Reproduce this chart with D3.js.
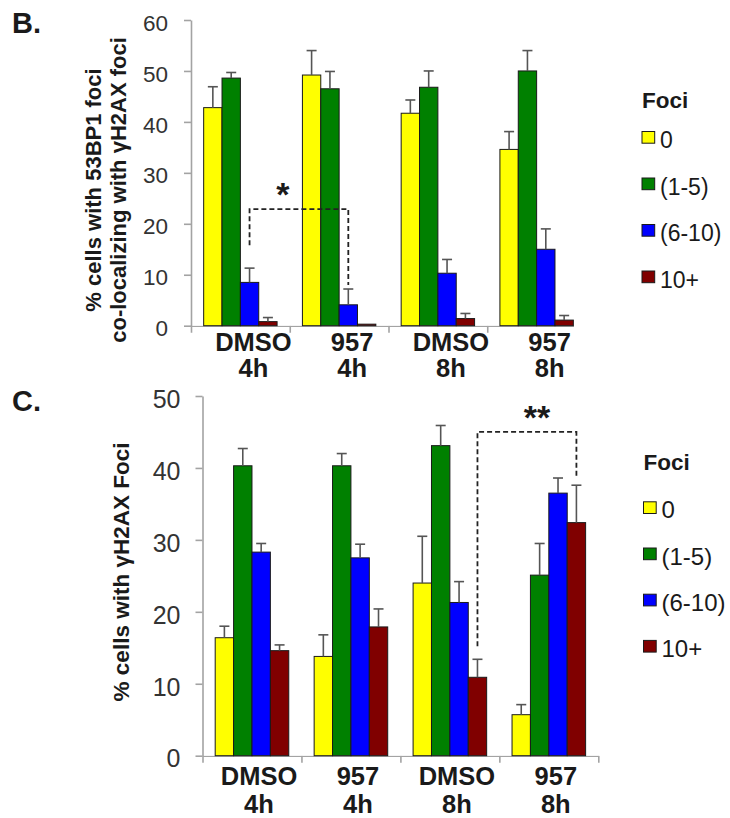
<!DOCTYPE html>
<html>
<head>
<meta charset="utf-8">
<script src="https://cdn.jsdelivr.net/npm/d3@7"></script>
<style>
  body { margin: 0; background: #fff; }
  svg text { font-family: "Liberation Sans", Arial, sans-serif; fill: #1a1a1a; }
</style>
</head>
<body>
<svg id="fig" width="730" height="818"></svg>
<script>
// shared categories / series
var groups = ["DMSO|4h", "957|4h", "DMSO|8h", "957|8h"]
var series = ["0", "(1-5)", "(6-10)", "10+"]
var colors = ["#ffff00", "#008000", "#0000ff", "#800000"]

// panel B  (rows = series, cols = groups)
var bValues = [
  [42.8, 49.2, 41.7, 34.6],
  [48.6, 46.5, 46.8, 50.0],
  [8.5, 4.1, 10.3, 15.0],
  [0.8, 0.3, 1.4, 1.1],
]
var bErrors = [
  [4.1, 4.8, 2.6, 3.5],
  [1.1, 3.4, 3.2, 4.0],
  [2.8, 3.1, 2.7, 4.0],
  [0.8, 0, 1.0, 0.9],
]
var bTicks = [0, 10, 20, 30, 40, 50, 60]
var bBracket = [[0, 2, 15.8], [1, 2, 8.0]]  // [group, series, leg bottom]
var bBracketTop = 22.9

// panel C
var cValues = [
  [16.4, 13.8, 24.0, 5.7],
  [40.3, 40.3, 43.1, 25.1],
  [28.3, 27.5, 21.3, 36.5],
  [14.6, 17.9, 10.9, 32.4],
]
var cErrors = [
  [1.6, 3.0, 6.5, 1.4],
  [2.4, 1.7, 2.8, 4.4],
  [1.2, 1.9, 2.9, 2.1],
  [0.8, 2.5, 2.5, 5.2],
]
var cTicks = [0, 10, 20, 30, 40, 50]
var cBracket = [[2, 3, 15.2], [3, 3, 38.9]]
var cBracketTop = 45.0

var axisColor = "#a3a3a3"
var svg = d3.select("#fig")

var panel = (p) => {
  var g = svg.append("g")
  var y = d3.scaleLinear().domain([0, d3.max(p.ticks)]).range([p.bottom, p.top])
  var x0 = d3.scaleBand().domain(groups).range([p.left, p.right])
  var x1 = d3.scaleBand().domain(series).range([0, x0.bandwidth()]).paddingOuter(0.69)
  var xb = d3.scaleLinear().domain([0, groups.length]).range([p.left, p.right])

  // panel letter
  g.append("text").text(p.name).attr("x", 12).attr("y", p.nameY)
    .attr("font-size", 29).attr("font-weight", "bold")

  // y axis
  var yAxis = g.append("g").attr("transform", `translate(${p.left},0)`)
    .call(d3.axisLeft(y).tickValues(p.ticks).tickSize(7).tickSizeOuter(0).tickPadding(p.tickPad))
  yAxis.attr("font-family", null).attr("font-size", null)
  yAxis.select(".domain").attr("stroke", axisColor).attr("stroke-width", 1.6)
  yAxis.selectAll(".tick line").attr("stroke", axisColor).attr("stroke-width", 1.6)
  yAxis.selectAll(".tick text").attr("font-size", p.tickFont).attr("dy", "0.45em").style("fill", "#333")

  // x axis, ticks on the category boundaries
  var clipId = "clip" + p.name[0]
  g.append("clipPath").attr("id", clipId).append("rect")
    .attr("x", 0).attr("y", 0).attr("width", p.clip).attr("height", 818)
  var xAxis = g.append("g").attr("transform", `translate(0,${p.bottom})`)
    .attr("clip-path", `url(#${clipId})`)
    .call(d3.axisBottom(xb).tickValues(d3.range(groups.length + 1)).tickFormat("").tickSize(7).tickSizeOuter(0))
  xAxis.select(".domain").attr("stroke", axisColor).attr("stroke-width", 1.6)
  xAxis.selectAll(".tick line").attr("stroke", axisColor).attr("stroke-width", 1.6)

  // category labels (two lines)
  groups.forEach((grp) => {
    var t = g.append("text").attr("text-anchor", "middle").attr("font-weight", "bold")
      .attr("font-size", p.catFont)
    grp.split("|").forEach((line, k) => {
      t.append("tspan").text(line)
        .attr("x", x0(grp) + x0.bandwidth() / 2 + p.labelDx)
        .attr("y", p.bottom + p.catLines[k])
    })
  })

  // y title
  p.title.forEach((line, k) => {
    g.append("text").text(line)
      .attr("transform", `translate(${p.titleX[k]},${p.titleY}) rotate(-90)`)
      .attr("text-anchor", "middle").attr("font-weight", "bold").attr("font-size", p.titleFont)
  })

  var rows = series.flatMap((s, i) => groups.map((grp, j) => ({
    s: s, grp: grp, v: p.values[i][j], e: p.errors[i][j], c: colors[i]
  })))
  var bx = (d) => x0(d.grp) + x1(d.s)

  g.append("g").selectAll("rect").data(rows).join("rect")
    .attr("x", bx).attr("y", d => y(d.v))
    .attr("width", x1.bandwidth()).attr("height", d => y(0) - y(d.v))
    .attr("fill", d => d.c).attr("stroke", "#1a1a1a").attr("stroke-width", 1)

  // plus-only error bars
  var eb = g.append("g").attr("stroke", "#555").attr("stroke-width", 1.6)
    .selectAll("g").data(rows.filter(d => d.e > 0)).join("g")
  eb.append("line")
    .attr("x1", d => bx(d) + x1.bandwidth() / 2).attr("x2", d => bx(d) + x1.bandwidth() / 2)
    .attr("y1", d => y(d.v)).attr("y2", d => y(d.v + d.e))
  eb.append("line")
    .attr("x1", d => bx(d) + x1.bandwidth() / 2 - 5).attr("x2", d => bx(d) + x1.bandwidth() / 2 + 5)
    .attr("y1", d => y(d.v + d.e)).attr("y2", d => y(d.v + d.e))

  // significance bracket
  var legX = (l) => x0(groups[l[0]]) + x1(series[l[1]]) + x1.bandwidth() / 2
  var a = p.bracket[0], b = p.bracket[1]
  var pts = [[legX(a), y(a[2])], [legX(a), y(p.bracketTop)], [legX(b), y(p.bracketTop)], [legX(b), y(b[2])]]
  g.append("path").attr("d", d3.line()(pts)).attr("fill", "none")
    .attr("stroke", "#222").attr("stroke-width", 1.8).attr("stroke-dasharray", "5,3")
  g.append("text").text(p.stars).attr("text-anchor", "middle")
    .attr("x", (legX(a) + legX(b)) / 2 + p.starDx).attr("y", y(p.bracketTop) - 3)
    .attr("font-size", 34).attr("font-weight", "bold")

  // legend
  var lg = g.append("g")
  lg.append("text").text("Foci").attr("x", p.legX).attr("y", p.legTitleY)
    .attr("font-weight", "bold").attr("font-size", 22.5)
  var item = lg.selectAll("g").data(series).join("g")
    .attr("transform", (d, i) => `translate(${p.legX},${p.legY + i * p.legStep})`)
  item.append("rect").attr("x", 0).attr("y", -6).attr("width", 12.7).attr("height", 11.7)
    .attr("fill", (d, i) => colors[i]).attr("stroke", "#1a1a1a").attr("stroke-width", 1)
  item.append("text").text(d => d).attr("x", 18).attr("y", 10.5).attr("font-size", p.legFont)
}

panel({
  name: "B.", nameY: 33,
  values: bValues, errors: bErrors, ticks: bTicks,
  bracket: bBracket, bracketTop: bBracketTop, stars: "*", starDx: -16,
  top: 20, bottom: 325.7, left: 191, right: 586, clip: 574,
  tickFont: 22.5, tickPad: 16,
  catFont: 25.5, catLines: [25, 51], labelDx: 13,
  title: ["% cells with 53BP1 foci", "co-localizing with \u03b3H2AX  foci"],
  titleX: [101, 126], titleY: 190, titleFont: 22,
  legX: 642, legTitleY: 108, legY: 137.5, legStep: 46.5, legFont: 23,
})

panel({
  name: "C.", nameY: 410.7,
  values: cValues, errors: cErrors, ticks: cTicks,
  bracket: cBracket, bracketTop: cBracketTop, stars: "**", starDx: 10,
  top: 396, bottom: 755.7, left: 202.5, right: 598.3, clip: 730,
  tickFont: 25, tickPad: 15,
  catFont: 25.5, catLines: [29.3, 57.5], labelDx: 7,
  title: ["% cells with \u03b3H2AX Foci"],
  titleX: [129], titleY: 572, titleFont: 22.5,
  legX: 643.5, legTitleY: 470, legY: 507.8, legStep: 46.2, legFont: 24,
})
</script>
</body>
</html>
